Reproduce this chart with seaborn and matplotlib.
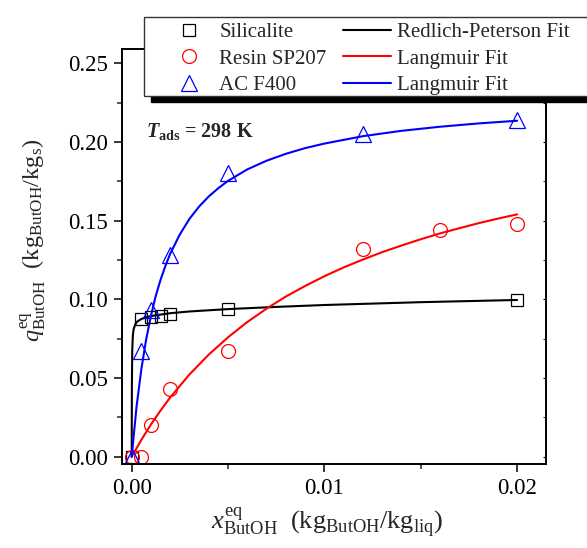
import matplotlib
matplotlib.use("Agg")
import matplotlib.pyplot as plt
import seaborn as sns
import pandas as pd
from matplotlib.lines import Line2D
from matplotlib.patches import Rectangle
from matplotlib.ticker import MultipleLocator, FormatStrFormatter

# ---------------- data ----------------
sil_x = [0.0, 0.0005, 0.001, 0.0015, 0.002, 0.005, 0.02]
sil_y = [0.0, 0.0872, 0.0885, 0.0897, 0.0910, 0.0940, 0.0998]

res_x = [0.0, 0.0005, 0.001, 0.002, 0.005, 0.012, 0.016, 0.02]
res_y = [0.0, 0.000, 0.020, 0.043, 0.067, 0.132, 0.144, 0.148]

ac_x = [0.0, 0.0005, 0.001, 0.002, 0.005, 0.012, 0.02]
ac_y = [0.0, 0.067, 0.093, 0.128, 0.180, 0.205, 0.214]

# fitted curves
rp_x = [0.0, 0.00001, 0.00003, 0.00006, 0.0001, 0.0002, 0.0003, 0.0005, 0.0008,
        0.0012, 0.002, 0.003, 0.005, 0.0075, 0.01, 0.015, 0.02]
rp_y = [0.0, 0.045, 0.068, 0.077, 0.081, 0.0845, 0.0860, 0.0875, 0.0888,
        0.0898, 0.0912, 0.0923, 0.0938, 0.0952, 0.0964, 0.0982, 0.0996]

lr_x = [0.0, 0.0005, 0.001, 0.0015, 0.002, 0.003, 0.004, 0.005, 0.006, 0.007,
        0.008, 0.009, 0.010, 0.011, 0.012, 0.013, 0.014, 0.015, 0.016, 0.017,
        0.018, 0.019, 0.02]
lr_y = [0.0, 0.0107, 0.0205, 0.0294, 0.0377, 0.0523, 0.0649, 0.0759, 0.0856,
        0.0941, 0.1018, 0.1085, 0.1147, 0.1203, 0.1253, 0.1300, 0.1342, 0.1382,
        0.1419, 0.1452, 0.1484, 0.1513, 0.1540]

la_x = [0.0, 0.00025, 0.0005, 0.00075, 0.001, 0.00125, 0.0015, 0.00175, 0.002,
        0.0025, 0.003, 0.0035, 0.004, 0.0045, 0.005, 0.006, 0.007, 0.008,
        0.009, 0.010, 0.012, 0.014, 0.016, 0.018, 0.02]
la_y = [0.0, 0.0316, 0.0556, 0.0745, 0.0896, 0.1023, 0.1125, 0.1213, 0.1290,
        0.1413, 0.1512, 0.1590, 0.1654, 0.1707, 0.1753, 0.1826, 0.1881, 0.1925,
        0.1961, 0.1990, 0.2037, 0.2071, 0.2097, 0.2118, 0.2135]

legend_markers = ["Silicalite", "Resin SP207", "AC F400"]
legend_lines = ["Redlich-Peterson Fit", "Langmuir Fit", "Langmuir Fit"]
colors = ["black", "red", "blue"]

x_ticks = [0.0, 0.01, 0.02]
y_ticks = [0.0, 0.05, 0.10, 0.15, 0.20, 0.25]

# ---------------- style ----------------
sns.set_theme(style="ticks")
plt.rcParams["font.family"] = ["Liberation Serif", "DejaVu Serif"]
plt.rcParams["mathtext.fontset"] = "custom"
plt.rcParams["mathtext.rm"] = "Liberation Serif"
plt.rcParams["mathtext.it"] = "Liberation Serif:italic"
plt.rcParams["mathtext.bf"] = "Liberation Serif:bold"
plt.rcParams["mathtext.bfit"] = "Liberation Serif:italic:bold"

W, H = 587, 548
fig = plt.figure(figsize=(W / 100, H / 100), dpi=100)
L, R, T, B = 122, 546, 49, 464
ax = fig.add_axes([L / W, 1 - B / H, (R - L) / W, (B - T) / H])

lw = 1.5
mew = 0.9

# fits
sns.lineplot(x=rp_x, y=rp_y, color=colors[0], lw=lw, ax=ax, sort=False)
sns.lineplot(x=lr_x, y=lr_y, color=colors[1], lw=lw, ax=ax, sort=False)
sns.lineplot(x=la_x, y=la_y, color=colors[2], lw=lw, ax=ax, sort=False)

# data markers
sns.lineplot(x=sil_x, y=sil_y, ax=ax, sort=False, linestyle="none", marker="s",
             markersize=8.2, markerfacecolor="none", markeredgecolor=colors[0],
             markeredgewidth=mew, color=colors[0])
sns.lineplot(x=res_x, y=res_y, ax=ax, sort=False, linestyle="none", marker="o",
             markersize=10, markerfacecolor="none", markeredgecolor=colors[1],
             markeredgewidth=mew, color=colors[1])
sns.lineplot(x=ac_x, y=ac_y, ax=ax, sort=False, linestyle="none", marker="^",
             markersize=11, markerfacecolor="none", markeredgecolor=colors[2],
             markeredgewidth=mew, color=colors[2])

# axes limits & ticks
ax.set_xlim(-0.000503, 0.0215)
ax.set_ylim(-0.00464, 0.2591)
ax.set_xticks(x_ticks)
ax.set_yticks(y_ticks)
ax.xaxis.set_minor_locator(MultipleLocator(0.005))
ax.yaxis.set_minor_locator(MultipleLocator(0.025))
ax.xaxis.set_major_formatter(FormatStrFormatter("%.2f"))
ax.yaxis.set_major_formatter(FormatStrFormatter("%.2f"))
for s in ax.spines.values():
    s.set_linewidth(1.4)
    s.set_color("black")
    s.set_visible(True)
ax.tick_params(axis="both", which="major", direction="out", length=6, width=1.1,
               labelsize=16.5, pad=4, colors="black")
ax.tick_params(axis="both", which="minor", direction="out", length=3.5, width=1.1)
ax.tick_params(axis="y", which="both", right=True, labelright=False)
for t in ax.yaxis.get_major_ticks() + ax.yaxis.get_minor_ticks():
    t.tick2line.set_marker(matplotlib.markers.TICKLEFT)
    t.tick2line.set_markersize(2)
    t.tick2line.set_markeredgewidth(0.8)

ax.set_xlabel(r"$x^{\rm eq}_{\rm ButOH}$  (kg$_{\rm ButOH}$/kg$_{\rm liq}$)",
              fontsize=19)
ax.set_ylabel(r"$q^{\rm eq}_{\rm ButOH}$  (kg$_{\rm ButOH}$/kg$_{\rm s}$)",
              fontsize=17.5)
ax.xaxis.set_label_coords((327 - L) / (R - L), -(505 - B) / (B - T))
ax.xaxis.label.set_va("top")
ax.yaxis.set_label_coords(-(L - 48) / (R - L), (B - 240) / (B - T))

ax.text((146 - L) / (R - L), (B - 137) / (B - T),
        r"$\mathbfit{T}_{\mathbf{ads}}$ = 298 K", transform=ax.transAxes,
        fontsize=14.5, fontweight="bold", ha="left", va="baseline")

# ---------------- legend with shadow frame ----------------
lx0, ly0, lx1, ly1 = 144, 17, 640, 96
shadow = Rectangle((((lx0 + 7) / W), 1 - (ly1 + 6) / H), (lx1 - lx0) / W,
                   (ly1 - ly0) / H, transform=fig.transFigure,
                   facecolor="black", edgecolor="black", zorder=3)
frame = Rectangle((lx0 / W, 1 - ly1 / H), (lx1 - lx0) / W, (ly1 - ly0) / H,
                  transform=fig.transFigure, facecolor="white",
                  edgecolor="#333333", lw=1.0, zorder=4)
fig.add_artist(shadow)
fig.add_artist(frame)

mk = ["s", "o", "^"]
ms = [8.2, 10, 11]
handles = [Line2D([], [], linestyle="none", marker=m, markersize=s,
                  markerfacecolor="none", markeredgecolor=c, markeredgewidth=mew)
           for m, s, c in zip(mk, ms, colors)]
handles += [Line2D([], [], color=c, lw=lw) for c in colors]
labels = legend_markers + legend_lines
leg = fig.legend(handles, labels, ncol=2, loc="upper left",
                 bbox_to_anchor=(165 / W, 1 - 22.5 / H), bbox_transform=fig.transFigure,
                 frameon=False, fontsize=15, handlelength=2.3,
                 handletextpad=0.3, columnspacing=0.8, labelspacing=0.33,
                 borderpad=0.0, borderaxespad=0.0)
leg.set_zorder(5)

fig.savefig("out.png", dpi=100)
